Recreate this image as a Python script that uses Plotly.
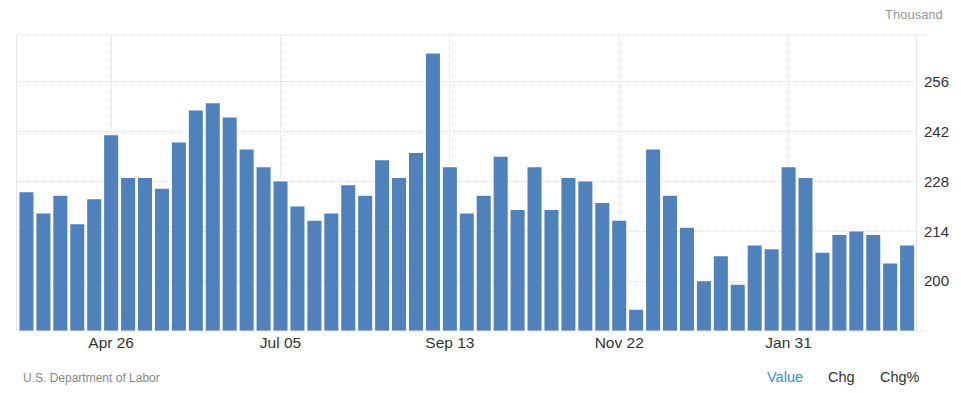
import pandas as pd
import plotly.graph_objects as go

start_week = "2025-03-22"
values = [225, 219, 224, 216, 223, 241, 229, 229, 226, 239,
          248, 250, 246, 237, 232, 228, 221, 217, 219, 227,
          224, 234, 229, 236, 264, 232, 219, 224, 235, 220,
          232, 220, 229, 228, 222, 217, 192, 237, 224, 215,
          200, 207, 199, 210, 209, 232, 229, 208, 213, 214,
          213, 205, 210]
weeks = pd.date_range(start_week, periods=len(values), freq="7D")

tick_dates = ["2025-04-26", "2025-07-05", "2025-09-13", "2025-11-22", "2026-01-31"]
tick_labels = ["Apr 26", "Jul 05", "Sep 13", "Nov 22", "Jan 31"]
y_ticks = [200, 214, 228, 242, 256]

W, H = 961, 393
L, R, T, B = 17, 41, 35, 62
pw, ph = W - L - R, H - T - B

def px_x(x):
    return (x - L) / pw

def px_y(y):
    return (H - B - y) / ph

BAR = "#4f81bd"
GRID = "#d9d9d9"
LINE = "#e6e6e6"
FONT = "Liberation Sans, Arial, sans-serif"

fig = go.Figure()
fig.add_trace(go.Bar(
    x=weeks, y=values, marker=dict(color=BAR, line=dict(width=0)),
    width=5.8 * 86400000, hoverinfo="x+y",
))

fig.update_layout(
    width=W, height=H,
    margin=dict(l=L, r=R, t=T, b=B, pad=0),
    paper_bgcolor="white", plot_bgcolor="white",
    showlegend=False,
    font=dict(family=FONT, size=14, color="#333333"),
    xaxis=dict(
        type="date",
        range=["2025-03-18 02:00", "2026-03-24 16:00"],
        tickvals=tick_dates, ticktext=tick_labels,
        showgrid=True, gridcolor=GRID, griddash="1px,1px", gridwidth=1,
        showline=False, zeroline=False, ticks="",
        tickfont=dict(family=FONT, size=15.5, color="#333333"),
        fixedrange=True,
    ),
    yaxis=dict(
        side="right",
        range=[186, 269.2],
        tickvals=y_ticks,
        showgrid=True, gridcolor=GRID, griddash="1px,1px", gridwidth=1,
        showline=True, linecolor=LINE, linewidth=1, mirror=True,
        zeroline=False, ticks="",
        ticklabelstandoff=4,
        tickfont=dict(family=FONT, size=15, color="#333333"),
        fixedrange=True,
    ),
    shapes=[
        dict(type="line", xref="paper", yref="paper", x0=0, x1=px_x(930), y0=1, y1=1,
             line=dict(color=GRID, width=1, dash="1px,1px")),
        dict(type="line", xref="paper", yref="paper", x0=0, x1=px_x(930), y0=0, y1=0,
             line=dict(color=LINE, width=1)),
    ],
    annotations=[
        dict(text="Thousand", xref="paper", yref="paper", x=px_x(949), y=px_y(14.5),
             xanchor="right", yanchor="middle", showarrow=False,
             font=dict(family=FONT, size=13, color="#999999")),
        dict(text="U.S. Department of Labor", xref="paper", yref="paper", x=px_x(21.5), y=px_y(378),
             xanchor="left", yanchor="middle", showarrow=False,
             font=dict(family=FONT, size=12, color="#888888")),
        dict(text="Value", xref="paper", yref="paper", x=px_x(768), y=px_y(377),
             xanchor="left", yanchor="middle", showarrow=False,
             font=dict(family=FONT, size=14.5, color="#2f8fe8")),
        dict(text="Chg", xref="paper", yref="paper", x=px_x(830), y=px_y(377),
             xanchor="left", yanchor="middle", showarrow=False,
             font=dict(family=FONT, size=14.5, color="#333333")),
        dict(text="Chg%", xref="paper", yref="paper", x=px_x(882), y=px_y(377),
             xanchor="left", yanchor="middle", showarrow=False,
             font=dict(family=FONT, size=14.5, color="#333333")),
    ],
)

fig.write_html("out.html", config={"displayModeBar": False})
